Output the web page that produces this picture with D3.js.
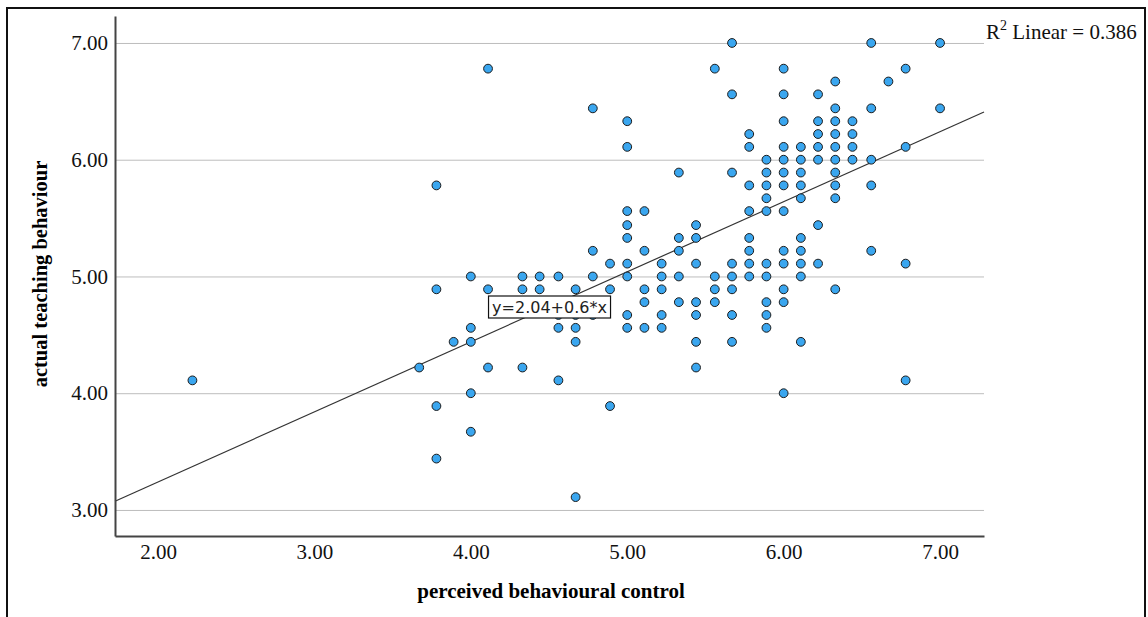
<!DOCTYPE html>
<html>
<head>
<meta charset="utf-8">
<script src="https://cdn.jsdelivr.net/npm/d3@7"></script>
<style>
  body { margin: 0; background: #fff; }
  svg { display: block; }
</style>
</head>
<body>
<div class="chart"></div>
<script>
// perceived behavioural control (x) levels, and the actual teaching behaviour (y) values seen at each one
var pbcLevels = [2.22, 3.67, 3.78, 3.89, 4.00, 4.11, 4.33, 4.44, 4.56, 4.67, 4.78, 4.89,
  5.00, 5.11, 5.22, 5.33, 5.44, 5.56, 5.67, 5.78, 5.89, 6.00, 6.11, 6.22, 6.33, 6.44,
  6.56, 6.67, 6.78, 7.00];

var atbByLevel = [
  [4.11],
  [4.22],
  [5.78, 4.89, 3.89, 3.44],
  [4.44],
  [5.00, 4.56, 4.44, 4.00, 3.67],
  [6.78, 4.89, 4.22],
  [5.00, 4.89, 4.22],
  [5.00, 4.89],
  [5.00, 4.67, 4.56, 4.11],
  [4.89, 4.67, 4.56, 4.44, 3.11],
  [6.44, 5.22, 5.00, 4.67],
  [5.11, 4.89, 3.89],
  [6.33, 6.11, 5.56, 5.44, 5.33, 5.11, 5.00, 4.67, 4.56],
  [5.56, 5.22, 4.89, 4.78, 4.56],
  [5.11, 5.00, 4.89, 4.67, 4.56],
  [5.89, 5.33, 5.22, 5.00, 4.78],
  [5.44, 5.33, 5.11, 4.78, 4.67, 4.44, 4.22],
  [6.78, 5.00, 4.89, 4.78],
  [7.00, 6.56, 5.89, 5.11, 5.00, 4.89, 4.67, 4.44],
  [6.22, 6.11, 5.78, 5.56, 5.33, 5.22, 5.11, 5.00],
  [6.00, 5.89, 5.78, 5.67, 5.56, 5.11, 5.00, 4.78, 4.67, 4.56],
  [6.78, 6.56, 6.33, 6.11, 6.00, 5.89, 5.78, 5.56, 5.22, 5.11, 4.89, 4.78, 4.00],
  [6.11, 6.00, 5.89, 5.78, 5.67, 5.33, 5.22, 5.11, 5.00, 4.44],
  [6.56, 6.33, 6.22, 6.11, 6.00, 5.44, 5.11],
  [6.67, 6.44, 6.33, 6.22, 6.11, 6.00, 5.89, 5.78, 5.67, 4.89],
  [6.33, 6.22, 6.11, 6.00],
  [7.00, 6.44, 6.00, 5.78, 5.22],
  [6.67],
  [6.78, 6.11, 5.11, 4.11],
  [7.00, 6.44]
];

var xTicks = [2, 3, 4, 5, 6, 7];
var yTicks = [3, 4, 5, 6, 7];

var fitIntercept = 2.04;
var fitSlope = 0.6;
var rSquared = 0.386;

var xTitle = "perceived behavioural control";
var yTitle = "actual teaching behaviour";

var width = 1148;
var height = 617;

var points = [];
for (var i = 0; i < pbcLevels.length; i++) {
  for (var j = 0; j < atbByLevel[i].length; j++) {
    points.push({ x: pbcLevels[i], y: atbByLevel[i][j] });
  }
}

// plot frame in pixels (window.top is read-only, so no plain "top")
var plotLeft = 115, plotRight = 984, plotTop = 16, plotBottom = 536;

var x = d3.scaleLinear().domain([1.725, 7.281]).range([plotLeft, plotRight]);
var y = d3.scaleLinear().domain([2.777, 7.231]).range([plotBottom, plotTop]);

var svg = d3.select("div.chart").append("svg")
    .attr("width", width)
    .attr("height", height);

// outer frame
svg.append("rect")
    .attr("x", 7).attr("y", 8)
    .attr("width", 1138).attr("height", 640)
    .attr("fill", "none")
    .attr("stroke", "#111")
    .attr("stroke-width", 2);

// grid lines
svg.append("g")
    .attr("transform", "translate(" + plotLeft + ",0)")
    .call(d3.axisLeft(y).tickValues(yTicks).tickSize(-(plotRight - plotLeft)).tickFormat(""))
    .call(function(g) {
      g.select(".domain").remove();
      g.selectAll("line").attr("stroke", "#bdbdbd").attr("stroke-width", 1);
    });

// regression line
var fitDomain = x.domain();
svg.append("line")
    .attr("x1", x(fitDomain[0]))
    .attr("y1", y(fitIntercept + fitSlope * fitDomain[0]))
    .attr("x2", x(fitDomain[1]))
    .attr("y2", y(fitIntercept + fitSlope * fitDomain[1]))
    .attr("stroke", "#333")
    .attr("stroke-width", 1.2);

svg.selectAll("circle.dot")
    .data(points)
    .enter()
    .append("circle")
      .attr("class", "dot")
      .attr("cx", function(d) { return x(d.x); })
      .attr("cy", function(d) { return y(d.y); })
      .attr("r", 4.4)
      .attr("fill", "#3aa6ef")
      .attr("stroke", "#1c1c1c")
      .attr("stroke-width", 1);

// axes
var yAxis = svg.append("g")
    .attr("transform", "translate(" + plotLeft + ",0)")
    .call(d3.axisLeft(y).tickValues(yTicks).tickSize(0).tickPadding(7).tickFormat(d3.format(".2f")));
yAxis.select(".domain").attr("stroke", "#444").attr("stroke-width", 2);

var xAxis = svg.append("g")
    .attr("transform", "translate(0," + plotBottom + ")")
    .call(d3.axisBottom(x).tickValues(xTicks).tickSize(0).tickPadding(8).tickFormat(d3.format(".2f")));
xAxis.select(".domain").attr("stroke", "#444").attr("stroke-width", 2);

svg.selectAll(".tick text")
    .attr("font-family", "'Liberation Serif', serif")
    .attr("font-size", 21)
    .attr("fill", "#111");

svg.append("text")
    .attr("x", 551)
    .attr("y", 598)
    .attr("text-anchor", "middle")
    .attr("font-family", "'Liberation Serif', serif")
    .attr("font-weight", "bold")
    .attr("font-size", 21)
    .text(xTitle);

svg.append("text")
    .attr("transform", "translate(47,274) rotate(-90)")
    .attr("text-anchor", "middle")
    .attr("font-family", "'Liberation Serif', serif")
    .attr("font-weight", "bold")
    .attr("font-size", 20.5)
    .text(yTitle);

// fit equation label
var eqX = x(4.11) + 0.5, eqY = 296;
svg.append("rect")
    .attr("x", eqX).attr("y", eqY)
    .attr("width", 122).attr("height", 22)
    .attr("fill", "#fff")
    .attr("stroke", "#111")
    .attr("stroke-width", 1.2);
svg.append("text")
    .attr("x", eqX + 61)
    .attr("y", eqY + 16.5)
    .attr("text-anchor", "middle")
    .attr("font-family", "'DejaVu Sans', sans-serif")
    .attr("font-size", 16)
    .attr("fill", "#222")
    .text("y=" + fitIntercept + "+" + fitSlope + "*x");

var r2 = svg.append("text")
    .attr("x", 986)
    .attr("y", 39)
    .attr("font-family", "'Liberation Serif', serif")
    .attr("font-size", 21)
    .attr("fill", "#111");
r2.append("tspan").text("R");
r2.append("tspan").attr("font-size", 14).attr("dy", -9).text("2");
r2.append("tspan").attr("dy", 9).text(" Linear = " + rSquared);
</script>
</body>
</html>
